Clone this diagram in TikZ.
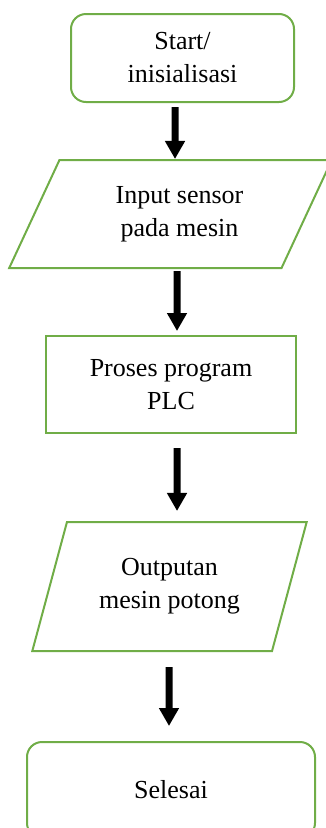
\documentclass[tikz,border=0pt]{standalone}
\usepackage{fontspec}
\setmainfont{Liberation Serif}
\usetikzlibrary{shapes.geometric,arrows.meta}
\definecolor{boxgreen}{HTML}{70AD47}
\tikzset{
	box/.style={draw=boxgreen, line width=2pt, align=center, inner sep=0pt,
		font=\fontsize{26}{33}\selectfont},
	iobox/.style={box, trapezium, trapezium stretches=true},
	arr/.style={line width=7pt, -{Triangle[length=18pt,width=19pt]}}
}
\begin{document}
\begin{tikzpicture}[x=1pt,y=-1pt]
		\path[use as bounding box] (0,0) rectangle (326,828);
		\clip (0,0) rectangle (326,828);

		\node[box, rounded corners=15pt, minimum width=223pt, minimum height=88pt] (start) at (182.5,58) {Start/\\inisialisasi};
		\node[iobox, trapezium left angle=59.3, trapezium right angle=120.7, minimum width=323pt, minimum height=108pt] (input) at (170.5,214) {\hspace*{18pt}Input sensor\\\hspace*{18pt}pada mesin};
		\node[box, minimum width=250pt, minimum height=97pt] (proses) at (171,384.5) {Proses program\\PLC};
		\node[iobox, trapezium left angle=66.9, trapezium right angle=113.1, minimum width=275pt, minimum height=129pt] (output) at (169.5,586.5) {Outputan\\mesin potong};
		\node[box, rounded corners=15pt, minimum width=288pt, minimum height=96pt] (selesai) at (171,790) {Selesai};

		\draw[arr] ([xshift=-7.5pt,yshift=-4pt]start.south) -- ([xshift=4.5pt]input.north);
		\draw[arr] ([xshift=6.5pt,yshift=-2pt]input.south) -- ([xshift=6pt,yshift=4pt]proses.north);
		\draw[arr] ([xshift=6pt,yshift=-14pt]proses.south) -- ([xshift=7.5pt,yshift=10pt]output.north);
		\draw[arr] ([xshift=-0.5pt,yshift=-15pt]output.south) -- ([xshift=-2pt,yshift=15pt]selesai.north);
\end{tikzpicture}
\end{document}
